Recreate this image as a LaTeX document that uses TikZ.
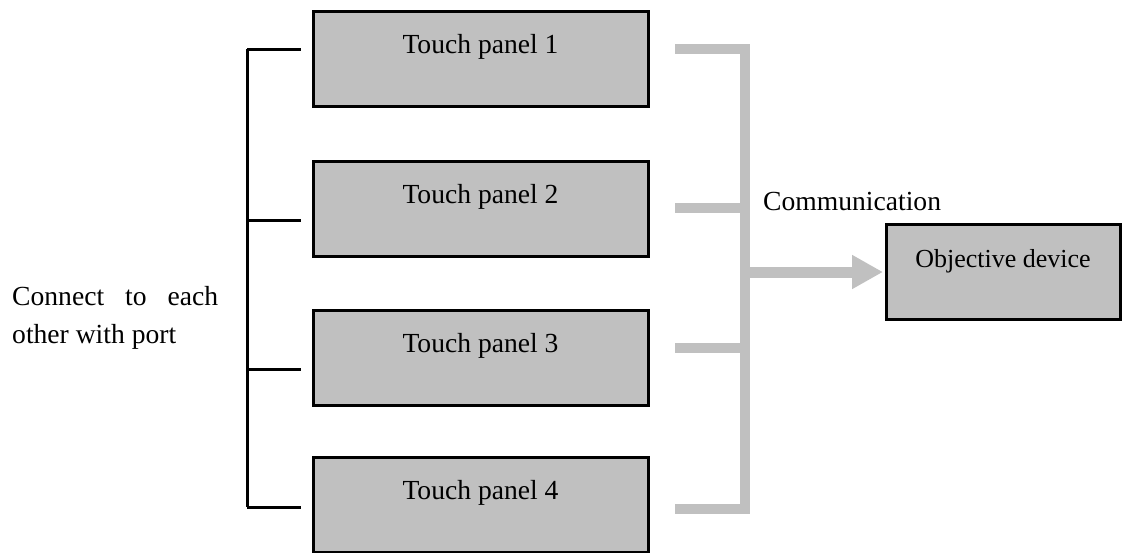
\documentclass[tikz,border=0pt]{standalone}
\usepackage{fontspec}
\setmainfont{Liberation Serif}
\usetikzlibrary{arrows.meta,calc}
\definecolor{boxgray}{RGB}{192,192,192}
\begin{document}
\begin{tikzpicture}[x=1pt,y=-1pt,
  panel/.style={draw=black,line width=3pt,fill=boxgray,minimum width=335pt,minimum height=95pt,inner sep=0pt,outer sep=0pt},
  objbox/.style={draw=black,line width=3pt,fill=boxgray,minimum width=234pt,minimum height=95pt,inner sep=0pt,outer sep=0pt},
  lbl/.style={font=\fontsize{27.6}{32}\selectfont,inner sep=0pt,anchor=base},
  objlbl/.style={font=\fontsize{26}{30}\selectfont,inner sep=0pt,anchor=base},
  blackline/.style={draw=black,line width=3pt},
  grayline/.style={draw=boxgray,line width=10pt}]
\useasboundingbox (0,0) rectangle (1123,552);
% panels
\node[panel] (p1) at (480.5,59) {};
\node[panel] (p2) at (480.5,208.5) {};
\node[panel] (p3) at (480.5,357.5) {};
\node[panel] (p4) at (480.5,505) {};
\node[lbl] (t1) at ($(p1.north)+(0,42)$) {Touch panel 1};
\node[lbl] (t2) at ($(p2.north)+(0,42)$) {Touch panel 2};
\node[lbl] (t3) at ($(p3.north)+(0,42)$) {Touch panel 3};
\node[lbl] (t4) at ($(p4.north)+(0,42)$) {Touch panel 4};
% objective device
\node[objbox] (obj) at (1003,271.5) {};
\node[objlbl] (tobj) at ($(obj.north)+(0,43)$) {Objective device};
% labels
\node[lbl,anchor=base west] (comm) at (763,210) {Communication};
\node[lbl,anchor=base west] (conn1) at (12,305) {\makebox[206pt][s]{Connect to each}};
\node[lbl,anchor=base west] (conn2) at (12,343) {other with port};
% black port bus
\coordinate (b1) at (247,49);
\coordinate (b2) at (247,220);
\coordinate (b3) at (247,369);
\coordinate (b4) at (247,507);
\coordinate (e1) at (301,49);
\coordinate (e2) at (301,220);
\coordinate (e3) at (301,369);
\coordinate (e4) at (301,507);
\draw[blackline] (b1) -- (b4);
\draw[blackline] (b1) -- (e1);
\draw[blackline] (b2) -- (e2);
\draw[blackline] (b3) -- (e3);
\draw[blackline] (b4) -- (e4);
% gray communication bus
\coordinate (g1) at (675,49);
\coordinate (g2) at (675,208);
\coordinate (g3) at (675,348);
\coordinate (g4) at (675,509);
\coordinate (v1) at (745,49);
\coordinate (v2) at (745,208);
\coordinate (v3) at (745,348);
\coordinate (v4) at (745,509);
\coordinate (va) at (745,272);
\draw[grayline,line join=miter] (g1) -- (v1) -- (v4) -- (g4);
\draw[grayline] (g2) -- (v2);
\draw[grayline] (g3) -- (v3);
\draw[draw=boxgray,line width=11pt,-{Triangle[length=31pt,width=32pt,fill=boxgray]}] (va) -- ($(obj.west|-va)+(-3,0)$);
\end{tikzpicture}
\end{document}
